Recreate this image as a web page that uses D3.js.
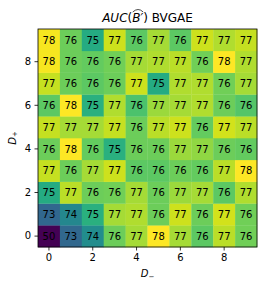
<!DOCTYPE html>
<html>
<head>
<meta charset="utf-8">
<script src="https://cdn.jsdelivr.net/npm/d3@7"></script>
<style>
  body { margin: 0; background: #fff; }
  svg { display: block; font-family: "DejaVu Sans", sans-serif; }
</style>
</head>
<body>
<svg id="chart"></svg>
<script>
// D- along x, D+ along y
const dMinus = [0, 1, 2, 3, 4, 5, 6, 7, 8, 9];
const dPlus = [0, 1, 2, 3, 4, 5, 6, 7, 8, 9];
const tickLabels = [0, 2, 4, 6, 8];

// auc[dPlus][dMinus], rows from bottom (D+ = 0) to top (D+ = 9)
const auc = [
  [50.0, 73.45, 74.45, 76.4, 77.0, 78.0, 77.0, 76.2, 77.2, 76.45],
  [73.4, 74.3, 75.45, 77.0, 77.1, 76.4, 77.4, 76.4, 77.45, 76.45],
  [75.3, 77.2, 76.4, 76.45, 77.0, 76.4, 76.9, 77.0, 76.2, 77.1],
  [77.3, 76.4, 77.0, 77.4, 76.2, 76.2, 76.4, 76.3, 77.2, 78.1],
  [76.4, 78.0, 76.3, 75.45, 76.4, 76.4, 76.9, 76.8, 76.4, 76.3],
  [77.3, 77.0, 77.0, 77.3, 76.4, 77.2, 77.4, 76.3, 77.45, 77.2],
  [76.2, 78.0, 75.45, 77.1, 76.0, 76.9, 77.0, 77.1, 76.4, 76.1],
  [77.3, 76.4, 76.2, 76.4, 77.4, 75.3, 77.1, 77.1, 76.45, 77.0],
  [77.8, 76.4, 76.3, 76.45, 77.0, 77.1, 77.2, 76.45, 78.0, 77.1],
  [77.8, 76.4, 75.3, 77.4, 76.2, 77.0, 76.2, 77.4, 77.1, 77.3]
];

const width = 263;
const height = 285;
const margin = {top: 29, right: 6, bottom: 38, left: 38};

const cells = dPlus.flatMap(p => dMinus.map(m => ({ m, p, v: auc[p][m] })));

const x = d3.scaleBand()
    .domain(dMinus)
    .range([margin.left, width - margin.right]);

const y = d3.scaleBand()
    .domain(dPlus)
    .range([height - margin.bottom, margin.top]);

const color = d3.scaleSequential(d3.interpolateViridis)
    .domain([71.2, 77.9])
    .clamp(true);

const fmt = d3.format(".0f");

const svg = d3.select("#chart")
    .attr("width", width)
    .attr("height", height)
    .attr("viewBox", [0, 0, width, height]);

svg.append("g")
  .selectAll("rect")
  .data(cells)
  .join("rect")
    .attr("x", d => x(d.m))
    .attr("y", d => y(d.p))
    .attr("width", x.bandwidth() + 0.3)
    .attr("height", y.bandwidth() + 0.3)
    .attr("fill", d => color(d.v));

svg.append("g")
  .selectAll("text")
  .data(cells)
  .join("text")
    .attr("x", d => x(d.m) + x.bandwidth() / 2)
    .attr("y", d => y(d.p) + y.bandwidth() / 2)
    .attr("dy", "0.36em")
    .attr("text-anchor", "middle")
    .attr("font-size", 10)
    .attr("fill", "#000")
    .text(d => fmt(d.v));

// frame
svg.append("rect")
    .attr("x", margin.left)
    .attr("y", margin.top)
    .attr("width", width - margin.left - margin.right)
    .attr("height", height - margin.top - margin.bottom)
    .attr("fill", "none")
    .attr("stroke", "#000")
    .attr("stroke-width", 0.8);

const xAxis = g => g
    .attr("transform", `translate(0,${height - margin.bottom})`)
    .call(d3.axisBottom(x).tickValues(tickLabels).tickSize(3.5).tickPadding(3.5))
    .call(g => g.select(".domain").remove())
    .call(g => g.selectAll(".tick line").attr("stroke-width", 0.8))
    .call(g => g.selectAll(".tick text").attr("font-size", 10).attr("font-family", "DejaVu Sans").attr("fill", "#000"));

const yAxis = g => g
    .attr("transform", `translate(${margin.left},0)`)
    .call(d3.axisLeft(y).tickValues(tickLabels).tickSize(3.5).tickPadding(3.5))
    .call(g => g.select(".domain").remove())
    .call(g => g.selectAll(".tick line").attr("stroke-width", 0.8))
    .call(g => g.selectAll(".tick text").attr("font-size", 10).attr("font-family", "DejaVu Sans").attr("fill", "#000"));

svg.append("g").call(xAxis);
svg.append("g").call(yAxis);

// axis labels: D with sub -, D with sub +
const xLabel = svg.append("text")
    .attr("x", (margin.left + width - margin.right) / 2)
    .attr("y", 277)
    .attr("text-anchor", "middle")
    .attr("font-size", 10);
xLabel.append("tspan").attr("font-style", "italic").text("D");
xLabel.append("tspan").attr("font-size", 7).attr("dy", 1.5).text("\u2212");

const yLabel = svg.append("text")
    .attr("transform", `translate(15.5,${(margin.top + height - margin.bottom) / 2}) rotate(-90)`)
    .attr("text-anchor", "middle")
    .attr("font-size", 10);
yLabel.append("tspan").attr("font-style", "italic").text("D");
yLabel.append("tspan").attr("font-size", 7).attr("dy", 1.5).text("+");

// title: AUC(B-hat ') BVGAE
const title = svg.append("text")
    .attr("x", (margin.left + width - margin.right) / 2)
    .attr("y", 22)
    .attr("text-anchor", "middle")
    .attr("font-size", 12);
title.append("tspan").attr("font-style", "italic").text("AUC");
title.append("tspan").text("(");
title.append("tspan").attr("font-style", "italic").text("B");
title.append("tspan").attr("font-style", "italic").text("\u2032");
title.append("tspan").text(") BVGAE");

const tn = title.node();
const b0 = tn.getStartPositionOfChar(4).x;
const b1 = tn.getEndPositionOfChar(5).x;
svg.append("path")
    .attr("d", `M${b0 + 0.5},12 Q${(b0 + b1) / 2 + 0.5},7 ${b1},12`)
    .attr("fill", "none")
    .attr("stroke", "#000")
    .attr("stroke-width", 0.7);
</script>
</body>
</html>
